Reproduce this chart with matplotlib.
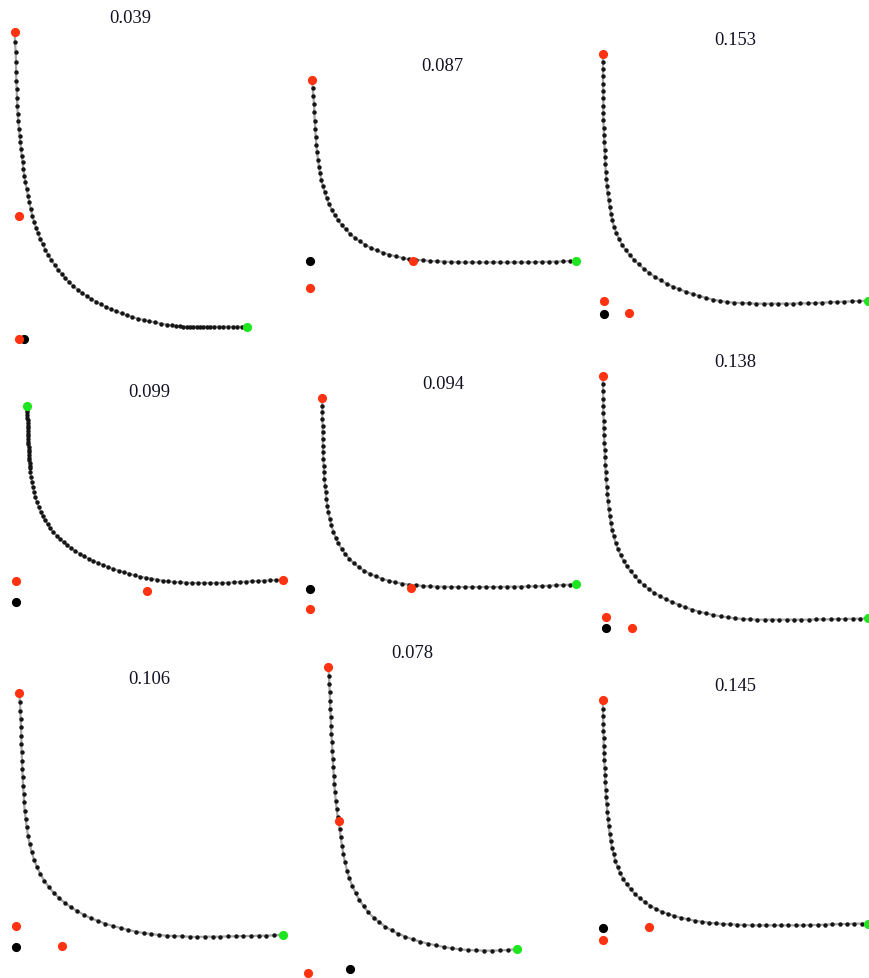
import matplotlib.pyplot as plt
import numpy as np

plt.rcParams['font.family'] = ['Liberation Serif', 'DejaVu Serif']

# значение метрики над каждой панелью
scores = ['0.039', '0.087', '0.153', '0.099', '0.094', '0.138', '0.106', '0.078', '0.145']

# фронты (x, y), y растёт вниз
curve_1 = [(44, 99), (45, 130), (47, 160), (48, 190), (48, 218), (49, 245), (50, 270), (51, 297), (52, 322),
           (53, 345), (55, 367), (57, 390), (59, 410), (61, 430), (63, 450), (65, 470), (68, 490), (70, 510),
           (73, 530), (76, 550), (80, 570), (84, 590), (88, 610), (92, 630), (97, 650), (102, 668), (108, 686),
           (114, 703), (121, 720), (128, 736), (136, 752), (145, 768), (154, 783), (164, 798), (174, 812),
           (185, 825), (196, 838), (208, 850), (220, 861), (233, 872), (246, 882), (260, 891), (274, 900),
           (288, 908), (303, 916), (318, 924), (333, 931), (349, 937), (365, 943), (381, 949), (397, 954),
           (414, 959), (431, 963), (448, 967), (465, 970), (482, 974), (500, 977), (515, 979), (528, 981),
           (540, 982), (550, 983), (560, 983), (570, 983), (580, 983), (590, 983), (600, 983), (610, 983),
           (620, 983), (630, 983), (642, 983), (656, 983), (670, 983), (684, 983), (698, 983), (712, 983),
           (726, 983), (740, 983)]
curve_2 = [(67, 124), (68, 148), (70, 170), (72, 195), (73, 220), (74, 245), (76, 270), (77, 295), (79, 318),
           (81, 340), (84, 362), (87, 383), (90, 403), (94, 423), (99, 442), (104, 460), (110, 478), (117, 495),
           (125, 512), (134, 528), (144, 543), (155, 558), (167, 571), (180, 584), (194, 596), (209, 607),
           (225, 617), (242, 626), (260, 634), (279, 641), (298, 647), (318, 652), (338, 657), (358, 661),
           (378, 663), (400, 664), (421, 666), (442, 667), (463, 668), (484, 669), (505, 670), (526, 670),
           (547, 670), (568, 670), (589, 670), (610, 670), (631, 670), (652, 670), (673, 670), (694, 670),
           (715, 670), (736, 669), (757, 669), (778, 668), (799, 668), (820, 667), (840, 666), (857, 666)]
curve_3 = [(38, 104), (39, 128), (39, 150), (39, 172), (39, 194), (40, 216), (40, 238), (40, 260), (40, 282),
           (40, 304), (41, 326), (42, 348), (43, 370), (44, 392), (45, 414), (46, 436), (47, 458), (49, 480),
           (51, 502), (53, 523), (56, 544), (59, 564), (63, 584), (67, 604), (72, 623), (79, 642), (87, 660),
           (96, 677), (107, 693), (119, 708), (132, 722), (146, 736), (161, 749), (177, 761), (194, 773),
           (212, 784), (230, 794), (249, 803), (268, 811), (288, 818), (308, 825), (328, 831), (349, 837),
           (370, 842), (391, 846), (412, 849), (433, 851), (455, 852), (477, 853), (499, 854), (521, 854),
           (543, 854), (565, 854), (587, 854), (609, 854), (631, 853), (653, 853), (675, 852), (697, 851),
           (719, 850), (741, 849), (763, 848), (785, 847), (807, 846), (835, 845)]
curve_4 = [(82, 112), (82, 122), (82, 130), (82, 138), (82, 146), (83, 154), (83, 162), (83, 170), (83, 178),
           (84, 186), (84, 194), (84, 202), (85, 210), (85, 218), (85, 226), (86, 234), (86, 242), (87, 250),
           (87, 258), (88, 266), (88, 274), (89, 282), (89, 290), (90, 298), (91, 310), (93, 325), (96, 340),
           (99, 355), (102, 370), (106, 385), (111, 400), (116, 414), (122, 428), (128, 441), (135, 454),
           (143, 466), (151, 478), (160, 489), (170, 500), (180, 510), (191, 520), (202, 529), (214, 538),
           (226, 546), (239, 554), (252, 562), (266, 569), (280, 576), (294, 582), (309, 588), (324, 594),
           (340, 600), (356, 605), (372, 610), (388, 614), (404, 619), (420, 623), (437, 626), (454, 629),
           (471, 632), (488, 635), (505, 637), (522, 639), (540, 640), (558, 641), (576, 642), (594, 642),
           (612, 642), (630, 642), (648, 642), (666, 642), (684, 641), (702, 640), (720, 639), (738, 638),
           (756, 637), (774, 636), (792, 635), (810, 634), (828, 633), (850, 632)]
curve_5 = [(96, 88), (97, 110), (97, 130), (97, 150), (98, 170), (98, 190), (98, 210), (99, 230), (99, 250),
           (100, 270), (101, 290), (102, 310), (103, 330), (105, 350), (107, 370), (109, 390), (112, 410),
           (115, 430), (119, 450), (124, 469), (130, 488), (137, 506), (145, 523), (155, 540), (166, 555),
           (178, 569), (191, 582), (206, 594), (222, 605), (239, 614), (257, 622), (276, 629), (296, 635),
           (316, 640), (337, 644), (358, 647), (379, 649), (400, 651), (421, 652), (442, 653), (463, 653),
           (484, 654), (505, 654), (526, 654), (547, 654), (568, 654), (589, 654), (610, 654), (631, 654),
           (652, 653), (673, 653), (694, 653), (715, 652), (736, 652), (757, 651), (778, 650), (799, 649),
           (820, 648), (840, 647), (858, 646)]
curve_6 = [(38, 112), (39, 135), (39, 157), (40, 179), (40, 201), (40, 223), (41, 245), (41, 267), (42, 289),
           (43, 311), (44, 333), (45, 355), (46, 377), (47, 399), (48, 421), (50, 443), (52, 465), (54, 487),
           (56, 509), (59, 530), (62, 551), (66, 572), (71, 592), (77, 612), (84, 631), (92, 649), (101, 666),
           (111, 682), (122, 697), (134, 711), (147, 725), (161, 738), (176, 750), (192, 761), (209, 771),
           (227, 780), (246, 789), (266, 797), (286, 805), (307, 812), (328, 818), (349, 823), (370, 828),
           (392, 832), (414, 835), (436, 838), (458, 840), (480, 841), (502, 842), (524, 842), (546, 842),
           (568, 842), (590, 842), (612, 842), (634, 842), (656, 842), (678, 841), (700, 841), (722, 841),
           (744, 840), (766, 840), (788, 839), (810, 839), (835, 838)]
curve_7 = [(58, 103), (60, 130), (61, 155), (62, 180), (63, 205), (64, 230), (64, 255), (65, 280), (66, 305),
           (67, 330), (68, 355), (69, 380), (71, 405), (72, 430), (74, 455), (77, 480), (80, 505), (84, 530),
           (89, 555), (95, 579), (102, 602), (111, 624), (121, 645), (133, 665), (146, 684), (161, 701),
           (177, 717), (194, 731), (212, 744), (231, 756), (251, 767), (272, 777), (294, 786), (316, 794),
           (339, 801), (362, 807), (385, 813), (408, 818), (431, 822), (454, 825), (477, 828), (500, 830),
           (523, 831), (546, 832), (569, 833), (592, 834), (615, 833), (638, 833), (661, 833), (684, 832),
           (707, 832), (730, 831), (753, 831), (776, 830), (799, 830), (822, 829), (848, 827)]
curve_8 = [(115, 84), (117, 110), (118, 135), (119, 160), (120, 185), (121, 210), (122, 235), (123, 260),
           (124, 285), (126, 310), (127, 335), (128, 360), (130, 385), (131, 410), (133, 435), (135, 460),
           (137, 485), (140, 510), (143, 535), (149, 570), (152, 595), (156, 620), (160, 645), (165, 670),
           (171, 695), (178, 718), (187, 741), (197, 763), (208, 783), (221, 802), (235, 820), (251, 836),
           (268, 850), (286, 863), (305, 874), (325, 884), (346, 893), (368, 901), (391, 908), (414, 914),
           (438, 919), (462, 924), (486, 928), (510, 931), (534, 933), (558, 934), (582, 935), (606, 935),
           (630, 934), (654, 933), (680, 930)]
curve_9 = [(38, 93), (39, 120), (39, 142), (40, 164), (40, 186), (41, 208), (41, 230), (42, 252), (43, 274),
           (44, 296), (45, 318), (46, 340), (47, 362), (48, 384), (50, 406), (52, 428), (54, 450), (56, 472),
           (59, 494), (62, 515), (66, 536), (71, 556), (76, 576), (83, 595), (91, 613), (100, 630), (110, 646),
           (122, 661), (135, 675), (149, 688), (164, 699), (180, 710), (197, 719), (215, 728), (234, 735),
           (253, 741), (273, 746), (293, 751), (314, 755), (335, 758), (356, 761), (377, 763), (398, 765),
           (419, 766), (441, 767), (463, 768), (485, 769), (507, 769), (529, 769), (551, 769), (573, 769),
           (595, 769), (617, 769), (639, 769), (661, 768), (683, 768), (705, 767), (727, 766), (749, 765),
           (771, 765), (793, 764), (815, 764), (835, 764)]

# опорные точки (красные)
red_1 = [(44, 99), (58, 652), (57, 1020)]
red_2 = [(67, 124), (368, 667), (60, 746)]
red_3 = [(38, 104), (43, 845), (118, 882)]
red_4 = [(850, 632), (48, 637), (442, 665)]
red_5 = [(96, 88), (363, 656), (59, 720)]
red_6 = [(38, 112), (47, 834), (127, 868)]
red_7 = [(58, 103), (48, 800), (185, 860)]
red_8 = [(115, 84), (147, 547), (55, 1003)]
red_9 = [(38, 93), (178, 773), (38, 812)]

# чёрная точка
black_1 = [(72, 1020)]
black_2 = [(59, 665)]
black_3 = [(42, 885)]
black_4 = [(47, 698)]
black_5 = [(59, 660)]
black_6 = [(47, 868)]
black_7 = [(47, 865)]
black_8 = [(180, 990)]
black_9 = [(38, 777)]

# зелёный конец фронта
green_1 = [(740, 983)]
green_2 = [(857, 666)]
green_3 = [(835, 845)]
green_4 = [(82, 112)]
green_5 = [(858, 646)]
green_6 = [(835, 838)]
green_7 = [(848, 827)]
green_8 = [(680, 930)]
green_9 = [(835, 764)]

curves = [curve_1, curve_2, curve_3, curve_4, curve_5, curve_6, curve_7, curve_8, curve_9]
reds = [red_1, red_2, red_3, red_4, red_5, red_6, red_7, red_8, red_9]
blacks = [black_1, black_2, black_3, black_4, black_5, black_6, black_7, black_8, black_9]
greens = [green_1, green_2, green_3, green_4, green_5, green_6, green_7, green_8, green_9]

# расположение панелей (пиксели) и масштаб: единиц данных на пиксель
origins = [(0, 0), (290, 40), (590, 20), (0, 370), (290, 370), (590, 340), (0, 660), (290, 640), (590, 670)]
UPP = 3.0
W, H = 870, 979

fig = plt.figure(figsize=(W / 100, H / 100), dpi=100)

for i in range(9):
    pts = np.array(curves[i] + reds[i] + blacks[i] + greens[i], dtype=float)
    x0, y0 = pts.min(axis=0)
    x1, y1 = pts.max(axis=0)
    ox, oy = origins[i]
    ax = fig.add_axes([(ox + x0 / UPP) / W, 1 - (oy + y1 / UPP) / H,
                       (x1 - x0) / UPP / W, (y1 - y0) / UPP / H])
    ax.set_xlim(x0, x1)
    ax.set_ylim(y1, y0)
    ax.axis('off')

    cx, cy = np.array(curves[i], dtype=float).T
    ax.plot(cx, cy, color='#a8a8a8', lw=1.6, zorder=1, clip_on=False)
    ax.plot(cx, cy, 'o', color='#151515', ms=3.2, mew=0, zorder=2, clip_on=False)

    for grp, col in ((blacks[i], '#000000'), (reds[i], '#ff3312'), (greens[i], '#1ee61e')):
        gx, gy = np.array(grp, dtype=float).T
        ax.plot(gx, gy, 'o', color=col, ms=6.6, mew=0, zorder=3, clip_on=False)

    ax.set_title(scores[i], fontsize=13.3, pad=7.2, color='#111122')

fig.savefig('out.png', dpi=100)
